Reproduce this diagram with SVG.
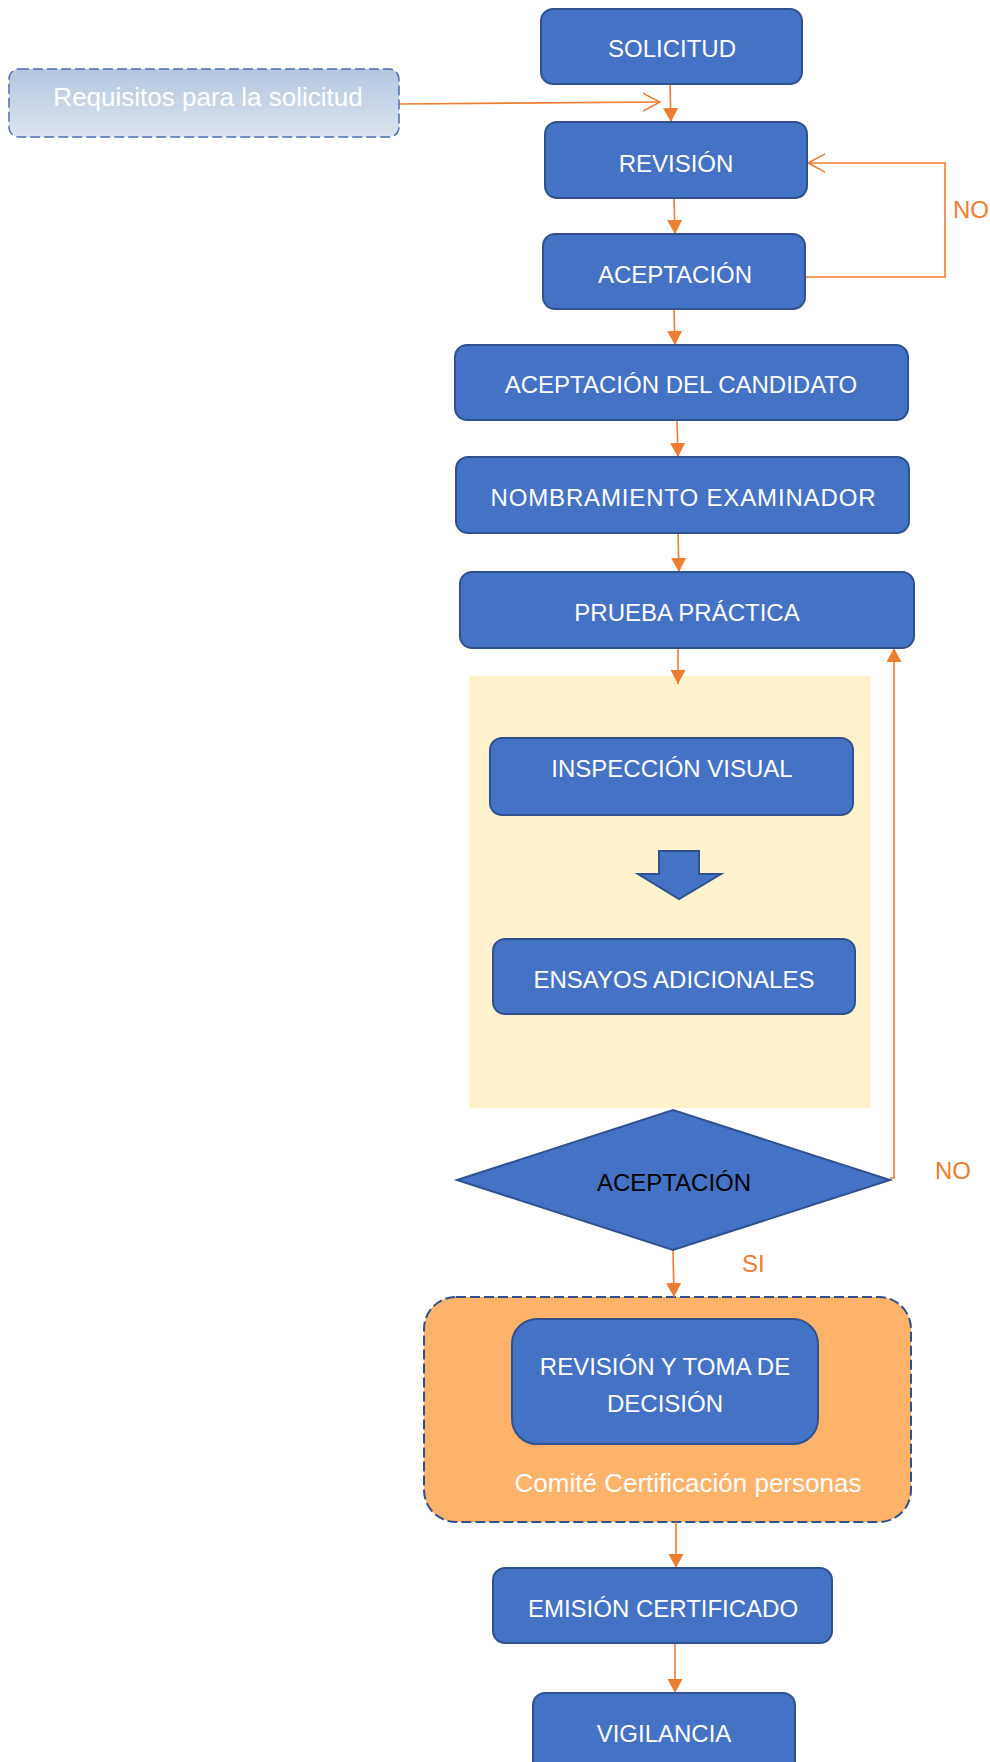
<svg xmlns="http://www.w3.org/2000/svg" width="990" height="1762" viewBox="0 0 990 1762">
<defs>
<linearGradient id="reqGrad" x1="0" y1="0" x2="0" y2="1">
<stop offset="0" stop-color="#B4C6DE"/>
<stop offset="1" stop-color="#DDE4EF"/>
</linearGradient>
<marker id="tri" markerUnits="userSpaceOnUse" markerWidth="16" markerHeight="16" refX="14" refY="7.5" orient="auto">
<path d="M0,0 L14,7.5 L0,15 z" fill="#ED7D31"/>
</marker>
<marker id="open" markerUnits="userSpaceOnUse" markerWidth="20" markerHeight="22" refX="17" refY="10" orient="auto">
<path d="M0,1 L17,10 L0,19" fill="none" stroke="#ED7D31" stroke-width="1.5"/>
</marker>
</defs>
<style>
.box{fill:#4472C4;stroke:#2F528F;stroke-width:2}
.t{font-family:"Liberation Sans",Arial,sans-serif;font-size:24px;fill:#FFFFFF;text-anchor:middle}
.tb{fill:#000000}
.big{font-size:26px}
.lbl{font-family:"Liberation Sans",Arial,sans-serif;font-size:24px;fill:#ED7D31}
.c{fill:none;stroke:#ED7D31;stroke-width:1.6}
</style>
<rect width="990" height="1762" fill="#FFFFFF"/>

<g id="grupo-pruebas">
<rect x="469" y="676" width="402" height="432" fill="#FFF2CC"/>
</g>

<g id="comite">
<rect x="424" y="1297" width="487" height="225" rx="32" fill="#FEB26A" stroke="#2F528F" stroke-width="2" stroke-dasharray="10 4"/>
<text class="t big" x="688" y="1492">Comité Certificación personas</text>
</g>

<g id="connectors">
<path class="c" d="M399,104 L660,102" marker-end="url(#open)"/>
<path class="c" d="M670,84 L671,122" marker-end="url(#tri)"/>
<path class="c" d="M674,198 L675,234" marker-end="url(#tri)"/>
<path class="c" d="M805,277 L945,277 L945,163 L808,163" marker-end="url(#open)"/>
<path class="c" d="M674,309 L675,345" marker-end="url(#tri)"/>
<path class="c" d="M677,420 L678,457" marker-end="url(#tri)"/>
<path class="c" d="M678,533 L679,572" marker-end="url(#tri)"/>
<path class="c" d="M678,648 L678,684" marker-end="url(#tri)"/>
<path class="c" d="M890,1178 L894,1178 L894,648" marker-end="url(#tri)"/>
<path class="c" d="M673,1250 L674,1297" marker-end="url(#tri)"/>
<path class="c" d="M676,1522 L676,1568" marker-end="url(#tri)"/>
<path class="c" d="M675,1643 L675,1693" marker-end="url(#tri)"/>
<text class="lbl" x="953" y="218">NO</text>
<text class="lbl" x="935" y="1179">NO</text>
<text class="lbl" x="742" y="1272">SI</text>
</g>

<g id="requisitos">
<rect x="9" y="69" width="390" height="68" rx="10" fill="url(#reqGrad)" stroke="#4A6FAE" stroke-width="1.5" stroke-dasharray="10 4"/>
<text class="t big" x="208" y="106">Requisitos para la solicitud</text>
</g>

<g id="solicitud">
<rect class="box" x="541" y="9" width="261" height="75" rx="12"/>
<text class="t" x="672" y="57">SOLICITUD</text>
</g>

<g id="revision">
<rect class="box" x="545" y="122" width="262" height="76" rx="12"/>
<text class="t" x="676" y="172">REVISIÓN</text>
</g>

<g id="aceptacion">
<rect class="box" x="543" y="234" width="262" height="75" rx="12"/>
<text class="t" x="675" y="283">ACEPTACIÓN</text>
</g>

<g id="aceptacion-candidato">
<rect class="box" x="455" y="345" width="453" height="75" rx="12"/>
<text class="t" x="681" y="393">ACEPTACIÓN DEL CANDIDATO</text>
</g>

<g id="nombramiento">
<rect class="box" x="456" y="457" width="453" height="76" rx="12"/>
<text class="t" x="683" y="506" textLength="385">NOMBRAMIENTO EXAMINADOR</text>
</g>

<g id="prueba-practica">
<rect class="box" x="460" y="572" width="454" height="76" rx="12"/>
<text class="t" x="687" y="621">PRUEBA PRÁCTICA</text>
</g>

<g id="inspeccion-visual">
<rect class="box" x="490" y="738" width="363" height="77" rx="12"/>
<text class="t" x="672" y="777">INSPECCIÓN VISUAL</text>
</g>

<g id="flecha-bloque">
<polygon class="box" points="659,851 699,851 699,874 721,874 679,899 638,874 659,874"/>
</g>

<g id="ensayos-adicionales">
<rect class="box" x="493" y="939" width="362" height="75" rx="12"/>
<text class="t" x="674" y="988">ENSAYOS ADICIONALES</text>
</g>

<g id="decision-aceptacion">
<polygon class="box" points="457,1180 673,1110 890,1180 673,1250"/>
<text class="t tb" x="674" y="1191">ACEPTACIÓN</text>
</g>

<g id="revision-toma-decision">
<rect class="box" x="512" y="1319" width="306" height="125" rx="25"/>
<text class="t" x="665" y="1375">REVISIÓN Y TOMA DE</text>
<text class="t" x="665" y="1412">DECISIÓN</text>
</g>

<g id="emision-certificado">
<rect class="box" x="493" y="1568" width="339" height="75" rx="12"/>
<text class="t" x="663" y="1617">EMISIÓN CERTIFICADO</text>
</g>

<g id="vigilancia">
<rect class="box" x="533" y="1693" width="262" height="80" rx="12"/>
<text class="t" x="664" y="1742">VIGILANCIA</text>
</g>
</svg>
